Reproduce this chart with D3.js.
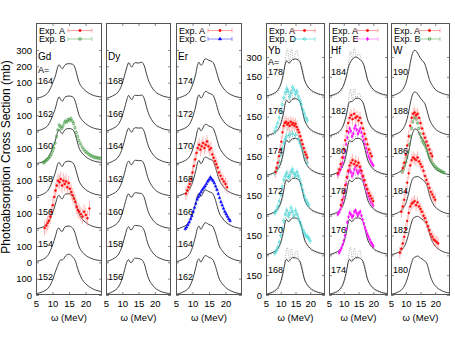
<!DOCTYPE html>
<html>
<head>
<meta charset="utf-8">
<script src="https://cdnjs.cloudflare.com/ajax/libs/d3/7.8.5/d3.min.js"></script>
<style>
  body { margin: 0; background: #fff; }
  text { font-family: "Liberation Sans", Arial, sans-serif; fill: #000; }
</style>
</head>
<body>
<div id="root"></div>
<script>
// energy grids (MeV)
const energy = [5, 7, 9, 10, 11, 11.5, 12, 12.5, 13, 13.5, 14, 15, 16, 16.5, 17, 17.5, 18, 19, 20, 22, 25]
const energyFine = [5, 7, 9, 10, 11, 11.5, 12, 12.3, 12.7, 13, 13.3, 13.7, 14, 14.5, 15, 15.5, 16, 16.5, 17, 17.5, 18, 19, 20, 22, 25]

// mass numbers, top to bottom
const gdMass = [164, 162, 160, 158, 156, 154, 152]
const dyMass = [168, 166, 164, 162, 160, 158, 156]
const erMass = [174, 172, 170, 168, 166, 164, 162]
const ybMass = [178, 176, 174, 172, 170, 168]
const hfMass = [184, 182, 180, 178, 176, 174]
const wMass = [190, 188, 186, 184, 182, 180]

// theory (mb), same order as masses
const gdTheory = [
  [5, 15, 50, 95, 150, 190, 210, 195, 185, 200, 212, 216, 213, 205, 180, 140, 105, 70, 50, 25, 12],
  [5, 15, 50, 96, 152, 192, 212, 196, 186, 202, 214, 218, 214, 204, 178, 140, 104, 70, 50, 25, 12],
  [5, 15, 52, 98, 155, 195, 213, 196, 187, 204, 215, 219, 214, 203, 176, 138, 103, 68, 48, 24, 11],
  [6, 16, 52, 100, 160, 198, 212, 194, 188, 206, 216, 219, 212, 200, 172, 135, 101, 66, 46, 23, 10],
  [6, 16, 54, 102, 165, 200, 211, 193, 189, 208, 218, 220, 211, 198, 170, 132, 100, 65, 45, 22, 10],
  [6, 17, 56, 104, 168, 202, 210, 192, 190, 210, 220, 222, 212, 197, 168, 130, 98, 64, 44, 22, 10],
  [8, 20, 50, 90, 150, 175, 200, 215, 215, 225, 240, 250, 235, 225, 205, 170, 140, 95, 70, 40, 20]
]
const dyTheory = [
  [4, 18, 50, 95, 165, 200, 222, 205, 195, 215, 222, 220, 225, 215, 190, 150, 118, 75, 48, 22, 8],
  [4, 18, 50, 96, 166, 202, 222, 204, 196, 216, 223, 221, 224, 214, 188, 148, 116, 74, 47, 22, 8],
  [4, 18, 51, 97, 168, 204, 221, 203, 197, 217, 224, 222, 223, 212, 186, 146, 114, 73, 47, 22, 8],
  [4, 18, 52, 98, 170, 205, 220, 202, 198, 218, 225, 223, 222, 210, 184, 144, 112, 72, 46, 21, 8],
  [5, 19, 53, 100, 172, 206, 219, 201, 199, 219, 226, 224, 220, 208, 182, 142, 110, 71, 46, 21, 8],
  [5, 19, 54, 101, 174, 207, 218, 200, 200, 220, 226, 224, 218, 206, 180, 140, 108, 70, 45, 21, 8],
  [5, 20, 55, 102, 175, 207, 216, 199, 201, 220, 226, 223, 216, 204, 178, 138, 106, 69, 45, 21, 8]
]
const erTheory = [
  [3, 15, 42, 85, 155, 205, 225, 207, 212, 238, 246, 236, 228, 214, 186, 150, 116, 76, 50, 23, 7],
  [3, 15, 43, 86, 157, 206, 225, 206, 213, 238, 246, 235, 227, 212, 184, 148, 114, 75, 49, 23, 7],
  [3, 16, 44, 88, 160, 207, 224, 205, 214, 237, 245, 234, 226, 210, 182, 146, 112, 74, 49, 22, 7],
  [4, 16, 45, 89, 162, 208, 224, 204, 214, 237, 244, 233, 225, 208, 180, 144, 110, 73, 48, 22, 7],
  [4, 16, 46, 90, 164, 209, 223, 203, 215, 236, 243, 232, 224, 206, 178, 142, 108, 72, 48, 22, 7],
  [4, 17, 47, 92, 166, 209, 222, 202, 215, 236, 242, 231, 222, 204, 176, 140, 106, 71, 47, 22, 7],
  [4, 17, 48, 93, 168, 210, 221, 201, 216, 235, 241, 230, 220, 202, 174, 138, 104, 70, 47, 22, 7]
]
const ybTheory = [
  [5, 18, 50, 95, 185, 245, 272, 258, 255, 270, 280, 285, 276, 262, 225, 175, 130, 82, 55, 28, 10],
  [5, 18, 50, 96, 186, 246, 273, 258, 256, 271, 281, 285, 275, 260, 222, 173, 128, 81, 54, 28, 10],
  [5, 18, 51, 97, 188, 247, 273, 257, 257, 272, 282, 284, 274, 258, 220, 171, 126, 80, 54, 27, 10],
  [5, 19, 52, 98, 190, 248, 272, 256, 258, 273, 282, 283, 272, 256, 218, 170, 125, 80, 53, 27, 10],
  [5, 19, 53, 100, 192, 249, 271, 255, 259, 274, 283, 282, 270, 254, 216, 168, 124, 79, 53, 27, 10],
  [6, 20, 54, 102, 194, 250, 270, 254, 260, 275, 283, 281, 268, 252, 214, 166, 122, 78, 52, 26, 10]
]
const hfTheory = [
  [5, 18, 50, 90, 165, 215, 250, 270, 285, 295, 300, 290, 270, 255, 225, 180, 135, 85, 55, 28, 10],
  [5, 18, 50, 93, 175, 230, 262, 262, 265, 278, 288, 287, 272, 256, 222, 176, 132, 83, 55, 28, 10],
  [5, 18, 50, 95, 182, 240, 268, 260, 260, 273, 283, 285, 274, 258, 222, 174, 130, 82, 54, 28, 10],
  [5, 18, 51, 96, 185, 243, 270, 258, 258, 272, 282, 284, 273, 257, 220, 172, 128, 81, 54, 27, 10],
  [5, 19, 52, 97, 187, 245, 271, 257, 258, 272, 282, 283, 272, 255, 218, 170, 126, 80, 53, 27, 10],
  [6, 19, 53, 99, 190, 247, 271, 256, 259, 273, 282, 282, 270, 253, 216, 168, 124, 79, 53, 27, 10]
]
const wTheory = [
  [5, 20, 55, 100, 190, 250, 305, 340, 350, 345, 330, 290, 262, 245, 210, 170, 130, 85, 55, 28, 10],
  [5, 20, 55, 98, 185, 245, 295, 325, 335, 332, 322, 288, 262, 246, 212, 172, 132, 86, 56, 28, 10],
  [5, 20, 55, 98, 185, 245, 300, 335, 355, 355, 345, 300, 268, 250, 215, 174, 132, 86, 56, 28, 10],
  [5, 18, 52, 92, 170, 220, 260, 285, 292, 294, 296, 284, 266, 254, 238, 205, 160, 100, 66, 33, 13],
  [5, 18, 50, 90, 165, 212, 252, 280, 288, 292, 295, 282, 265, 255, 242, 212, 168, 105, 70, 35, 14],
  [5, 18, 50, 90, 160, 205, 245, 275, 285, 290, 295, 280, 265, 255, 245, 215, 170, 105, 70, 35, 15]
]

// dotted calculation (Yb, Hf), on energyFine
const ybDotted = [
  [3, 10, 35, 80, 170, 260, 345, 365, 290, 260, 330, 360, 300, 275, 335, 350, 290, 262, 250, 195, 135, 75, 45, 20, 7],
  [3, 10, 36, 82, 172, 262, 340, 360, 292, 262, 328, 355, 300, 276, 330, 345, 288, 260, 246, 192, 132, 74, 44, 20, 7],
  [3, 10, 36, 82, 174, 264, 338, 355, 295, 265, 325, 350, 300, 278, 325, 340, 286, 258, 244, 190, 130, 73, 44, 20, 7],
  [3, 11, 37, 84, 176, 266, 335, 350, 296, 266, 322, 345, 298, 278, 320, 335, 284, 256, 242, 188, 128, 72, 43, 20, 7],
  [3, 11, 38, 85, 178, 268, 332, 345, 298, 268, 320, 340, 296, 278, 318, 330, 282, 254, 240, 186, 126, 72, 43, 20, 7],
  [3, 11, 38, 86, 180, 270, 345, 360, 296, 266, 330, 350, 296, 276, 325, 335, 282, 254, 240, 186, 126, 72, 43, 20, 7]
]
const hfDotted = [
  [3, 10, 35, 78, 160, 235, 310, 345, 300, 285, 350, 370, 320, 300, 330, 315, 272, 252, 228, 182, 130, 74, 44, 20, 7],
  [3, 10, 35, 80, 166, 248, 330, 355, 295, 275, 340, 360, 305, 285, 325, 320, 278, 255, 232, 184, 130, 74, 44, 20, 7],
  [3, 10, 36, 82, 170, 255, 335, 355, 292, 268, 332, 352, 300, 280, 322, 330, 282, 256, 238, 186, 130, 73, 44, 20, 7],
  [3, 10, 36, 83, 172, 258, 336, 352, 292, 266, 328, 348, 298, 278, 320, 332, 282, 255, 240, 186, 128, 72, 43, 20, 7],
  [3, 11, 37, 84, 175, 262, 338, 350, 294, 266, 326, 345, 297, 277, 318, 332, 282, 254, 240, 186, 128, 72, 43, 20, 7],
  [3, 11, 38, 85, 178, 266, 345, 365, 296, 264, 330, 355, 296, 276, 328, 340, 284, 254, 242, 188, 128, 72, 43, 20, 7]
]

// experimental data: energies (MeV), cross sections (mb)
const gd156A_E = [7.6, 8.1, 8.5, 8.9, 9.3, 9.7, 10.1, 10.5, 10.9, 11.3, 11.7, 12.1, 12.5, 12.9, 13.3, 13.7, 14.1, 14.5, 14.9, 15.3, 15.7, 16.1, 16.5, 16.9, 17.3, 17.7, 18.1, 18.6, 19.1, 19.6, 20.1, 20.6, 21.2]
const gd156A_S = [10, 25, 40, 55, 80, 110, 150, 200, 240, 270, 300, 290, 310, 270, 300, 280, 295, 260, 285, 250, 230, 210, 190, 170, 140, 120, 110, 95, 80, 110, 90, 70, 130]
const gd160B_E = [7.2, 7.6, 8.0, 8.4, 8.8, 9.2, 9.6, 10.0, 10.4, 10.8, 11.2, 11.6, 12.0, 12.4, 12.8, 13.2, 13.6, 14.0, 14.4, 14.8, 15.2, 15.6, 16.0, 16.4, 16.8, 17.2, 17.6, 18.0, 18.5, 19.0, 19.5, 20.0, 20.5, 21.0, 21.5, 22.0, 22.5, 23.0, 23.5, 24.0, 24.5]
const gd160B_S = [10, 15, 22, 30, 38, 48, 60, 80, 100, 130, 170, 210, 240, 230, 220, 235, 255, 265, 260, 275, 270, 280, 265, 250, 225, 195, 170, 145, 125, 105, 90, 78, 70, 62, 55, 50, 45, 42, 40, 38, 36]
const er168A_E = [8.0, 8.4, 8.8, 9.2, 9.6, 10.0, 10.4, 10.8, 11.2, 11.6, 12.0, 12.4, 12.8, 13.2, 13.6, 14.0, 14.4, 14.8, 15.2, 15.6, 16.0, 16.4, 16.8, 17.2, 17.6, 18.0, 18.5, 19.0, 19.5, 20.0, 20.5]
const er168A_S = [20, 40, 60, 80, 110, 150, 190, 230, 270, 300, 320, 290, 310, 330, 300, 320, 340, 310, 290, 300, 260, 240, 220, 200, 180, 150, 130, 110, 95, 80, 60]
const er166C_E = [7.8, 8.2, 8.6, 9.0, 9.4, 9.8, 10.2, 10.6, 11.0, 11.4, 11.8, 12.2, 12.6, 13.0, 13.4, 13.8, 14.2, 14.6, 15.0, 15.4, 15.8, 16.2, 16.6, 17.0, 17.4, 17.8, 18.2, 18.6, 19.0, 19.4, 19.8, 20.2, 20.6, 21.0, 21.4]
const er166C_S = [5, 15, 30, 45, 65, 85, 110, 135, 160, 185, 200, 215, 230, 245, 255, 265, 280, 295, 305, 320, 310, 300, 285, 265, 245, 220, 195, 170, 150, 130, 110, 95, 80, 65, 55]
const yb176D_E = [8.0, 8.5, 9.0, 9.5, 10.0, 10.5, 11.0, 11.5, 12.0, 12.5, 13.0, 13.5, 14.0, 14.5, 15.0, 15.5, 16.0, 16.5, 17.0, 17.5, 18.0, 18.5, 19.0]
const yb176D_S = [40, 70, 100, 140, 190, 240, 290, 330, 360, 340, 300, 330, 370, 350, 320, 340, 300, 270, 240, 200, 170, 140, 120]
const yb174A_E = [8.2, 8.6, 9.0, 9.4, 9.8, 10.2, 10.6, 11.0, 11.4, 11.8, 12.2, 12.6, 13.0, 13.4, 13.8, 14.2, 14.6, 15.0, 15.4, 15.8, 16.2, 16.6, 17.0, 17.4, 17.8, 18.2, 18.6, 19.0]
const yb174A_S = [30, 60, 100, 150, 200, 260, 330, 380, 400, 410, 390, 400, 380, 410, 390, 400, 380, 395, 370, 350, 330, 300, 270, 240, 210, 180, 160, 140]
const yb174D_E = [8.0, 8.5, 9.0, 9.5, 10.0, 10.5, 11.0, 11.5, 12.0, 13.0, 14.0, 15.0, 16.0, 16.5, 17.0, 17.5, 18.0, 18.5, 19.0]
const yb174D_S = [20, 40, 70, 110, 160, 210, 250, 280, 300, 310, 320, 310, 280, 250, 220, 190, 160, 130, 100]
const yb172D_E = [8.0, 8.5, 9.0, 9.5, 10.0, 10.5, 11.0, 11.5, 12.0, 12.5, 13.0, 13.5, 14.0, 14.5, 15.0, 15.5, 16.0, 16.5, 17.0, 17.5, 18.0, 18.5, 19.0, 19.5]
const yb172D_S = [20, 40, 70, 110, 160, 220, 270, 300, 320, 290, 300, 330, 350, 320, 300, 330, 300, 270, 230, 190, 150, 120, 100, 80]
const yb170D_E = [8.0, 8.5, 9.0, 9.5, 10.0, 10.5, 11.0, 11.5, 12.0, 12.5, 13.0, 13.5, 14.0, 14.5, 15.0, 15.5, 16.0, 16.5, 17.0, 17.5, 18.0, 18.5, 19.0, 19.5, 20.0]
const yb170D_S = [15, 35, 60, 100, 150, 200, 260, 310, 340, 300, 320, 360, 330, 300, 340, 310, 280, 250, 220, 190, 170, 150, 140, 130, 110]
const hf180A_E = [8.0, 8.5, 9.0, 9.5, 10.0, 10.5, 11.0, 11.5, 12.0, 12.5, 13.0, 13.5, 14.0, 14.5, 15.0, 15.5, 16.0, 16.5, 17.0, 17.5, 18.0, 18.5, 19.0, 19.5]
const hf180A_S = [20, 50, 90, 140, 200, 270, 340, 400, 440, 460, 430, 470, 440, 450, 420, 440, 400, 360, 320, 280, 240, 200, 170, 150]
const hf180E_E = [8.0, 8.4, 8.8, 9.2, 9.6, 10.0, 10.4, 10.8, 11.2, 11.6, 12.0, 12.4, 12.8, 13.2, 13.6, 14.0, 14.4, 14.8, 15.2, 15.6, 16.0, 16.4, 16.8, 17.2, 17.6, 18.0, 18.4, 18.8, 19.2, 19.6, 20.0]
const hf180E_S = [10, 25, 45, 70, 100, 140, 190, 240, 290, 330, 360, 340, 300, 320, 360, 380, 350, 320, 340, 360, 330, 300, 270, 240, 210, 180, 150, 130, 110, 95, 80]
const hf178A_E = [9.0, 9.5, 10.0, 10.5, 11.0, 11.5, 12.0, 12.5, 13.0, 13.5, 14.0, 14.5, 15.0, 15.5, 16.0, 16.5, 17.0, 17.5, 18.0, 18.5, 19.0, 19.5, 20.0]
const hf178A_S = [80, 120, 170, 230, 290, 340, 380, 400, 420, 390, 410, 380, 400, 370, 340, 300, 270, 230, 200, 170, 150, 130, 110]
const hf178E_E = [8.0, 8.4, 8.8, 9.2, 9.6, 10.0, 10.4, 10.8, 11.2, 11.6, 12.0, 12.4, 12.8, 13.2, 13.6, 14.0, 14.4, 14.8, 15.2, 15.6, 16.0, 16.4, 16.8, 17.2, 17.6, 18.0, 18.4, 18.8, 19.2, 19.6, 20.0]
const hf178E_S = [10, 25, 45, 70, 100, 140, 190, 240, 290, 330, 350, 330, 300, 320, 350, 370, 340, 320, 335, 350, 320, 290, 260, 230, 200, 170, 145, 125, 105, 90, 75]
const hf176E_E = [8.4, 8.8, 9.2, 9.6, 10.0, 10.4, 10.8, 11.2, 11.6, 12.0, 12.4, 12.8, 13.2, 13.6, 14.0, 14.4, 14.8, 15.2, 15.6, 16.0, 16.4, 16.8, 17.2, 17.6, 18.0, 18.4, 18.8, 19.2, 19.6, 20.0]
const hf176E_S = [20, 35, 55, 80, 110, 150, 200, 250, 290, 320, 310, 290, 300, 330, 340, 320, 300, 320, 330, 300, 270, 240, 210, 185, 160, 140, 120, 100, 85, 70]
const w186A_E = [9.0, 9.5, 10.0, 10.5, 11.0, 11.5, 12.0, 12.5, 13.0, 13.5, 14.0, 14.5, 15.0, 15.5, 16.0, 16.5, 17.0, 17.5, 18.0, 18.5, 19.0]
const w186A_S = [60, 100, 160, 230, 300, 380, 440, 470, 480, 460, 470, 440, 400, 360, 320, 290, 260, 230, 200, 170, 150]
const w186B_E = [8.8, 9.2, 9.6, 10.0, 10.4, 10.8, 11.2, 11.6, 12.0, 12.4, 12.8, 13.2, 13.6, 14.0, 14.4, 14.8, 15.2, 15.6, 16.0, 16.4, 16.8, 17.2, 17.6, 18.0, 18.5, 19.0, 19.5, 20.0, 20.5, 21.0, 21.5, 22.0, 22.5, 23.0]
const w186B_S = [30, 50, 75, 105, 140, 185, 240, 300, 360, 410, 440, 445, 430, 400, 360, 320, 290, 265, 250, 235, 215, 190, 165, 140, 120, 100, 85, 70, 60, 50, 42, 36, 30, 26]
const w184A_E = [8.5, 9.0, 9.5, 10.0, 10.5, 11.0, 11.5, 12.0, 12.5, 13.0, 13.5, 14.0, 14.5, 15.0, 15.5, 16.0, 16.5, 17.0, 17.5, 18.0, 18.5, 19.0, 19.5, 20.0]
const w184A_S = [30, 70, 120, 180, 250, 320, 380, 420, 440, 430, 420, 440, 410, 390, 370, 340, 300, 270, 240, 210, 180, 160, 140, 120]
const w182A_E = [8.0, 8.5, 9.0, 9.5, 10.0, 10.5, 11.0, 11.5, 12.0, 12.5, 13.0, 13.5, 14.0, 14.5, 15.0, 15.5, 16.0, 16.5, 17.0, 17.5, 18.0, 18.5, 19.0, 19.5, 20.0, 20.5, 21.0]
const w182A_S = [20, 50, 90, 140, 200, 260, 320, 370, 390, 400, 410, 380, 400, 370, 350, 330, 300, 280, 250, 220, 190, 160, 140, 120, 110, 100, 90]

// axis ticks
const xTicks = [5, 10, 15, 20]
const leftTicks = [0, 100, 200, 300, 400, 500, 600, 700, 800, 900, 1000, 1100, 1200, 1300, 1400, 1500]
const leftTickText = ['0', '100', '0', '100', '0', '100', '0', '100', '0', '100', '0', '100', '0', '100', '200', '300']
const rightTicks = [0, 150, 300, 450, 600, 750, 900, 1050, 1200, 1350, 1500, 1650, 1800]
const rightTickText = ['0', '150', '0', '150', '0', '150', '0', '150', '0', '150', '0', '150', '300']

const expStyle = {
  A: { color: '#ff0000', err: '#ff8a8a', sym: d3.symbolCircle, fill: true },
  B: { color: '#2a8a2a', err: '#8cc88c', sym: d3.symbolSquare, fill: false },
  C: { color: '#0000ff', err: '#7070ff', sym: d3.symbolTriangle, fill: true },
  D: { color: '#00c8c8', err: '#70e0e0', sym: d3.symbolCircle, fill: false },
  E: { color: '#ff00ff', err: '#ff88ff', sym: d3.symbolDiamond, fill: true }
}

const plotTop = 23, plotBottom = 295
const yLeft = d3.scaleLinear().domain([0, 1665]).range([plotBottom, plotTop])
const yRight = d3.scaleLinear().domain([0, 2057]).range([plotBottom, plotTop])

const panels = [
  { el: 'Gd', mass: gdMass, th: gdTheory, x0: 36, x1: 102, y: yLeft, step: 200, ticks: leftTicks, tickText: leftTickText, labels: true, aeq: true, legend: ['A', 'B'] },
  { el: 'Dy', mass: dyMass, th: dyTheory, x0: 106, x1: 171, y: yLeft, step: 200, ticks: leftTicks, legend: [] },
  { el: 'Er', mass: erMass, th: erTheory, x0: 176, x1: 242, y: yLeft, step: 200, ticks: leftTicks, legend: ['A', 'C'] },
  { el: 'Yb', mass: ybMass, th: ybTheory, dot: ybDotted, x0: 266, x1: 325, y: yRight, step: 300, ticks: rightTicks, tickText: rightTickText, labels: true, aeq: true, legend: ['A', 'D'] },
  { el: 'Hf', mass: hfMass, th: hfTheory, dot: hfDotted, x0: 329, x1: 388, y: yRight, step: 300, ticks: rightTicks, legend: ['A', 'E'] },
  { el: 'W', mass: wMass, th: wTheory, x0: 391, x1: 450, y: yRight, step: 300, ticks: rightTicks, legend: ['A', 'B'] }
]

const expData = [
  { el: 'Gd', mass: 156, exp: 'A', E: gd156A_E, S: gd156A_S, dS: 45, dE: 0.25 },
  { el: 'Gd', mass: 160, exp: 'B', E: gd160B_E, S: gd160B_S, dS: 15, dE: 0 },
  { el: 'Er', mass: 168, exp: 'A', E: er168A_E, S: er168A_S, dS: 40, dE: 0.25 },
  { el: 'Er', mass: 166, exp: 'C', E: er166C_E, S: er166C_S, dS: 15, dE: 0 },
  { el: 'Yb', mass: 176, exp: 'D', E: yb176D_E, S: yb176D_S, dS: 25, dE: 0.1 },
  { el: 'Yb', mass: 174, exp: 'D', E: yb174D_E, S: yb174D_S, dS: 25, dE: 0.1 },
  { el: 'Yb', mass: 174, exp: 'A', E: yb174A_E, S: yb174A_S, dS: 45, dE: 0.25 },
  { el: 'Yb', mass: 172, exp: 'D', E: yb172D_E, S: yb172D_S, dS: 25, dE: 0.1 },
  { el: 'Yb', mass: 170, exp: 'D', E: yb170D_E, S: yb170D_S, dS: 25, dE: 0.1 },
  { el: 'Hf', mass: 180, exp: 'E', E: hf180E_E, S: hf180E_S, dS: 20, dE: 0 },
  { el: 'Hf', mass: 180, exp: 'A', E: hf180A_E, S: hf180A_S, dS: 45, dE: 0.25 },
  { el: 'Hf', mass: 178, exp: 'E', E: hf178E_E, S: hf178E_S, dS: 20, dE: 0 },
  { el: 'Hf', mass: 178, exp: 'A', E: hf178A_E, S: hf178A_S, dS: 45, dE: 0.25 },
  { el: 'Hf', mass: 176, exp: 'E', E: hf176E_E, S: hf176E_S, dS: 20, dE: 0 },
  { el: 'W', mass: 186, exp: 'B', E: w186B_E, S: w186B_S, dS: 15, dE: 0 },
  { el: 'W', mass: 186, exp: 'A', E: w186A_E, S: w186A_S, dS: 45, dE: 0.25 },
  { el: 'W', mass: 184, exp: 'A', E: w184A_E, S: w184A_S, dS: 45, dE: 0.25 },
  { el: 'W', mass: 182, exp: 'A', E: w182A_E, S: w182A_S, dS: 45, dE: 0.25 }
]

const svg = d3.select('#root').append('svg')
  .attr('width', 455)
  .attr('height', 342)

svg.append('text')
  .attr('transform', 'translate(10,157) rotate(-90)')
  .attr('text-anchor', 'middle')
  .style('font-size', '12px')
  .text('Photoabsorption Cross Section (mb)')

panels.forEach((p, pi) => {
  const x = d3.scaleLinear().domain([5, 25]).range([p.x0, p.x1])
  const y = p.y
  const n = p.mass.length
  const g = svg.append('g')

  g.append('clipPath').attr('id', 'clip' + pi)
    .append('rect')
    .attr('x', p.x0).attr('y', plotTop)
    .attr('width', p.x1 - p.x0).attr('height', plotBottom - plotTop)

  const plot = g.append('g').attr('clip-path', 'url(#clip' + pi + ')')

  // theory curves
  p.mass.forEach((m, i) => {
    const off = (n - 1 - i) * p.step
    if (p.dot) {
      plot.append('path')
        .attr('d', d3.line().x(d => x(d[0])).y(d => y(d[1] + off)).curve(d3.curveMonotoneX)(energyFine.map((e, k) => [e, p.dot[i][k]])))
        .attr('fill', 'none').attr('stroke', '#999').attr('stroke-width', 0.8)
        .attr('stroke-dasharray', '1,1.4')
    }
    plot.append('path')
      .attr('d', d3.line().x(d => x(d[0])).y(d => y(d[1] + off)).curve(d3.curveMonotoneX)(energy.map((e, k) => [e, p.th[i][k]])))
      .attr('fill', 'none').attr('stroke', '#2b2b2b').attr('stroke-width', 0.9)
  })

  // experimental points
  expData.filter(s => s.el === p.el).forEach(s => {
    const st = expStyle[s.exp]
    const off = (n - 1 - p.mass.indexOf(s.mass)) * p.step
    const pts = s.E.map((e, k) => [e, s.S[k]])
    const eg = plot.append('g')
    eg.selectAll('line.v').data(pts).enter().append('line')
      .attr('x1', d => x(d[0])).attr('x2', d => x(d[0]))
      .attr('y1', d => y(d[1] + off - s.dS)).attr('y2', d => y(d[1] + off + s.dS))
      .attr('stroke', st.err).attr('stroke-width', 0.6)
    if (s.dE > 0) {
      eg.selectAll('line.h').data(pts).enter().append('line')
        .attr('x1', d => x(d[0] - s.dE)).attr('x2', d => x(d[0] + s.dE))
        .attr('y1', d => y(d[1] + off)).attr('y2', d => y(d[1] + off))
        .attr('stroke', st.err).attr('stroke-width', 0.6)
    }
    eg.selectAll('path').data(pts).enter().append('path')
      .attr('transform', d => 'translate(' + x(d[0]) + ',' + y(d[1] + off) + ')')
      .attr('d', d3.symbol().type(st.sym).size(st.fill ? 3 : 4))
      .attr('fill', st.fill ? st.color : 'none')
      .attr('stroke', st.color).attr('stroke-width', 0.5)
  })

  // inward ticks on all sides
  g.append('g').attr('transform', 'translate(' + p.x0 + ',0)')
    .call(d3.axisRight(y).tickValues(p.ticks).tickSize(3).tickFormat(''))
  g.append('g').attr('transform', 'translate(' + p.x1 + ',0)')
    .call(d3.axisLeft(y).tickValues(p.ticks).tickSize(3).tickFormat(''))
  g.append('g').attr('transform', 'translate(0,' + plotBottom + ')')
    .call(d3.axisTop(x).tickValues(xTicks).tickSize(3).tickFormat(''))
  g.append('g').attr('transform', 'translate(0,' + plotTop + ')')
    .call(d3.axisBottom(x).tickValues(xTicks).tickSize(3).tickFormat(''))
  g.selectAll('.domain').remove()
  g.selectAll('.tick line').attr('stroke', '#555').attr('stroke-width', 0.7)

  // x labels
  const xl = g.append('g').attr('transform', 'translate(0,' + plotBottom + ')')
    .call(d3.axisBottom(x).tickValues(xTicks).tickSize(0).tickPadding(5).tickFormat(d3.format('d')))
  xl.select('.domain').remove()
  xl.selectAll('text').style('font-size', '9.5px').attr('fill', '#000')

  g.append('text')
    .attr('x', (p.x0 + p.x1) / 2).attr('y', 321)
    .attr('text-anchor', 'middle')
    .style('font-size', '9.5px')
    .text('\u03c9 (MeV)')

  // y labels on first panel of each group
  if (p.labels) {
    const yl = g.append('g').attr('transform', 'translate(' + p.x0 + ',0)')
      .call(d3.axisLeft(y).tickValues(p.ticks).tickSize(0).tickPadding(4).tickFormat((d, i) => p.tickText[i]))
    yl.select('.domain').remove()
    yl.selectAll('text').style('font-size', '9.5px').attr('fill', '#000')
  }

  // frame
  g.append('rect')
    .attr('x', p.x0 + 0.5).attr('y', plotTop + 0.5)
    .attr('width', p.x1 - p.x0 - 1).attr('height', plotBottom - plotTop - 1)
    .attr('fill', 'none').attr('stroke', '#555').attr('stroke-width', 1)

  // element name and mass labels
  const left = p.x0 + 2
  const big = p.step === 200
  g.append('text').attr('x', left).attr('y', big ? 60 : 54)
    .style('font-size', '10px').text(p.el)
  if (p.aeq) {
    g.append('text').attr('x', left).attr('y', big ? 73 : 64.5)
      .style('font-size', '9px').text('A=')
  }
  p.mass.forEach((m, i) => {
    const off = (n - 1 - i) * p.step
    g.append('text').attr('x', left)
      .attr('y', y(off) - (big ? 15 : 22))
      .style('font-size', '9px')
      .text(m)
  })

  // legend
  p.legend.forEach((k, j) => {
    const st = expStyle[k]
    const ly = 30.5 + j * 8.5
    const lx0 = p.x0 + (big ? 32 : 28), lx1 = p.x1 - 10
    g.append('text').attr('x', p.x0 + 3).attr('y', ly + 3.2)
      .style('font-size', '9px').text('Exp. ' + k)
    g.append('line').attr('x1', lx0).attr('x2', lx1).attr('y1', ly).attr('y2', ly)
      .attr('stroke', st.err).attr('stroke-width', 0.8)
    g.append('line').attr('x1', lx0).attr('x2', lx0).attr('y1', ly - 2).attr('y2', ly + 2)
      .attr('stroke', st.err).attr('stroke-width', 0.8)
    g.append('line').attr('x1', lx1).attr('x2', lx1).attr('y1', ly - 2).attr('y2', ly + 2)
      .attr('stroke', st.err).attr('stroke-width', 0.8)
    g.append('path').attr('transform', 'translate(' + (lx0 + lx1) / 2 + ',' + ly + ')')
      .attr('d', d3.symbol().type(st.sym).size(st.fill ? 4 : 5))
      .attr('fill', st.fill ? st.color : 'none')
      .attr('stroke', st.color).attr('stroke-width', 0.6)
  })
})
</script>
</body>
</html>
